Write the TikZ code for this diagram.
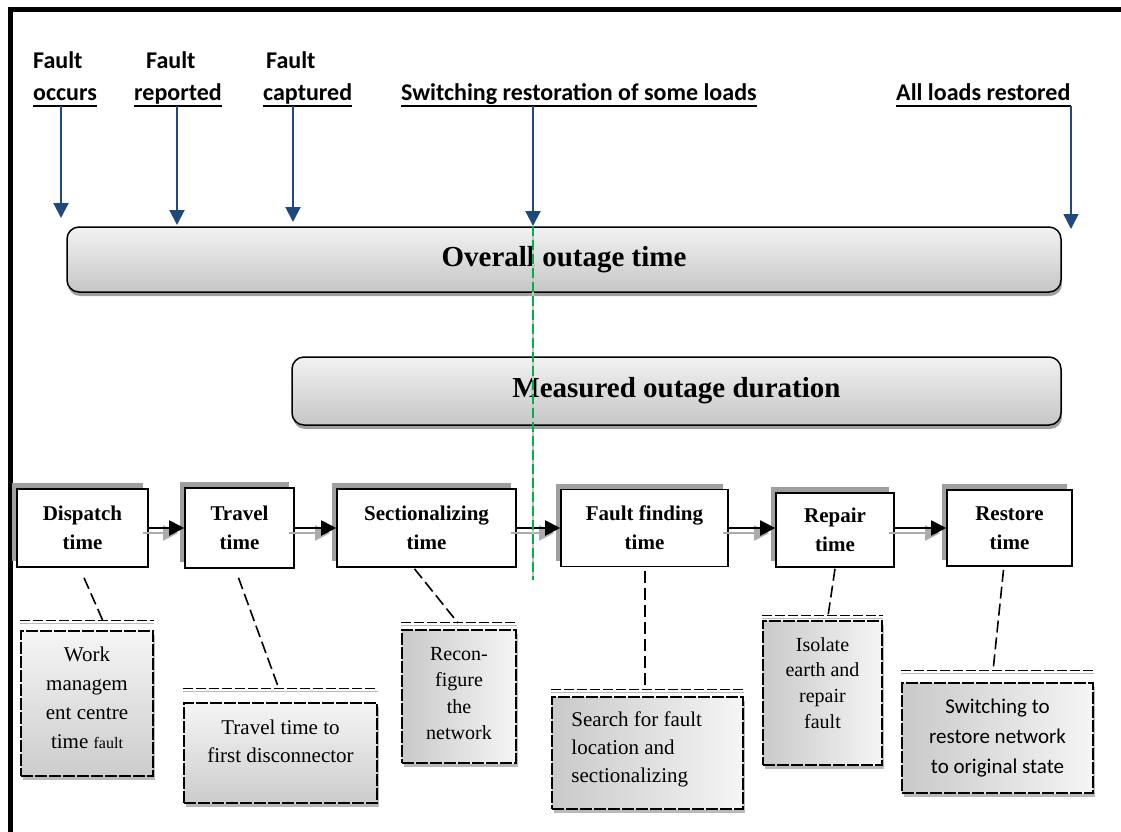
\documentclass[tikz,border=0pt]{standalone}
\usepackage{fontspec}
\setmainfont{Liberation Serif}
\newfontfamily\carl{Carlito}
\usetikzlibrary{arrows.meta,shadows}
\definecolor{arrowblue}{RGB}{31,73,125}
\definecolor{gline}{RGB}{0,176,80}
\begin{document}
\begin{tikzpicture}[x=1pt,y=-1pt,
  toplab/.style={font=\carl\bfseries\fontsize{24}{28}\selectfont, inner sep=0pt, anchor=base west},
  uline/.style={line width=2pt, black},
  barrow/.style={line width=2pt, arrowblue, -{Triangle[length=15pt,width=15pt]}},
  bigbox/.style={draw, line width=1.5pt, rounded corners=12pt, top color=gray!10, bottom color=gray!45,
    drop shadow={shadow xshift=1pt, shadow yshift=-4pt, fill=gray!75, opacity=1},
    font=\bfseries\fontsize{29}{34}\selectfont, inner sep=0pt},
  pbox/.style={draw, line width=1.6pt, fill=white, align=center, inner sep=0pt,
    font=\bfseries\fontsize{21}{29}\selectfont,
    drop shadow={shadow xshift=-5pt, shadow yshift=6pt, fill=gray!75, opacity=1}},
  parrow/.style={line width=2pt, black, -{Triangle[length=15pt,width=15pt]}},
  pashadow/.style={line width=2pt, gray!65, -{Triangle[length=15pt,width=15pt]}},
  sbox/.style={draw, line width=1.5pt, dash pattern=on 12pt off 2pt, inner sep=0pt,
    drop shadow={shadow xshift=1.5pt, shadow yshift=-4pt, fill=gray!55, opacity=1}},
  vgrad/.style={top color=gray!8, bottom color=gray!40},
  hgrad/.style={left color=gray!42, right color=gray!8},
  stext/.style={align=center, inner sep=0pt},
  dlblack/.style={line width=1.5pt, black, dash pattern=on 10pt off 3pt},
  dlgray/.style={line width=1.5pt, gray!55},
  callout/.style={line width=1.6pt, black, dash pattern=on 12pt off 5pt},
]
\useasboundingbox (0,0) rectangle (1121,832);

% frame
\draw[line width=5pt] (10,832) -- (10,10) -- (1121,10);

% top labels
\node[toplab] (f1) at (33,69) {Fault};
\node[toplab] (occ) at (33,101) {occurs};
\node[toplab] (f2) at (146,69) {Fault};
\node[toplab] (rep) at (134,101) {reported};
\node[toplab] (f3) at (266,69) {Fault};
\node[toplab] (cap) at (263,101) {captured};
\node[toplab] (sw) at (401,101) {Switching restoration of some loads};
\node[toplab] (all) at (896,101) {All loads restored};
\foreach \n in {occ,rep,cap,sw,all}{
  \draw[uline] ([yshift=-5pt]\n.base west) -- ([yshift=-5pt]\n.base east);
}

% blue arrows
\coordinate (s1) at (61,106);   \coordinate (t1) at (61,218);
\coordinate (s2) at (177,106);  \coordinate (t2) at (177,225);
\coordinate (s3) at (293,106);  \coordinate (t3) at (293,222);
\coordinate (s4) at (533,106);  \coordinate (t4) at (533,226);
\coordinate (s5) at (1071,106); \coordinate (t5) at (1071,229);
\draw[barrow] (s1) -- (t1);
\draw[barrow] (s2) -- (t2);
\draw[barrow] (s3) -- (t3);
\draw[barrow] (s4) -- (t4);
\draw[barrow, line width=1.6pt] (s5) -- (t5);

% big boxes
\node[bigbox, minimum width=994pt, minimum height=65pt] (overall) at (564,259.5) {Overall outage time};
\node[bigbox, minimum width=769pt, minimum height=68pt] (measured) at (676.5,391) {Measured outage duration};

% process boxes
\node[pbox, minimum width=131pt, minimum height=78pt] (dispatch) at (82.5,528) {Dispatch\\time};
\node[pbox, minimum width=109pt, minimum height=80pt] (travel) at (239.5,528) {Travel\\time};
\node[pbox, minimum width=179pt, minimum height=78pt] (sect) at (426.5,528) {Sectionalizing\\time};
\node[pbox, minimum width=167pt, minimum height=77pt] (ff) at (644.5,528) {Fault finding\\time};
\node[pbox, minimum width=118pt, minimum height=74pt] (repair) at (835,530) {Repair\\time};
\node[pbox, minimum width=125pt, minimum height=76pt] (restore) at (1009.5,528) {Restore\\time};

% arrows between process boxes
\draw[pashadow] ([shift={(-6,5)}]dispatch.east) -- ([shift={(-6,5)}]travel.west);
\draw[parrow] (dispatch.east) -- (travel.west);
\draw[pashadow] ([shift={(-6,5)}]travel.east) -- ([shift={(-6,5)}]sect.west);
\draw[parrow] (travel.east) -- (sect.west);
\draw[pashadow] ([shift={(-6,5)}]sect.east) -- ([shift={(-6,5)}]ff.west);
\draw[parrow] (sect.east) -- (ff.west);
\draw[pashadow] ([shift={(-6,5)}]ff.east) -- ([shift={(-6,3)}]repair.west);
\draw[parrow] (ff.east) -- ([yshift=2pt]repair.west);
\draw[pashadow] ([shift={(-6,3)}]repair.east) -- ([shift={(-6,5)}]restore.west);
\draw[parrow] ([yshift=2pt]repair.east) -- (restore.west);

% sub boxes
\node[sbox, vgrad, minimum width=132pt, minimum height=145pt] (work) at (87,703.5) {};
\node[sbox, vgrad, minimum width=193pt, minimum height=100pt] (ttbox) at (280.5,753) {};
\node[sbox, hgrad, minimum width=114pt, minimum height=133pt] (recon) at (459,696.5) {};
\node[sbox, hgrad, minimum width=191pt, minimum height=112pt] (search) at (647.5,753) {};
\node[sbox, hgrad, minimum width=119pt, minimum height=144pt] (isolate) at (822.5,693) {};
\node[sbox, hgrad, minimum width=191pt, minimum height=110pt] (switch) at (997.5,738) {};

% sub box texts
\node[stext, font=\fontsize{21}{29}\selectfont] (worktxt) at ([yshift=6pt]work.center)
  {Work\\managem\\ent centre\\time {\fontsize{16}{29}\selectfont fault}};
\node[stext, font=\fontsize{21}{28}\selectfont] (tttxt) at ([yshift=12pt]ttbox.center)
  {Travel time to\\first disconnector};
\node[stext, font=\fontsize{20}{26.5}\selectfont] (recontxt) at ([yshift=3pt]recon.center)
  {Recon-\\figure\\the\\network};
\node[stext, align=left, anchor=west, font=\fontsize{21}{28}\selectfont] (searchtxt) at ([shift={(20,-4)}]search.west)
  {Search for fault\\location and\\sectionalizing};
\node[stext, font=\fontsize{20}{25.7}\selectfont] (isotxt) at ([yshift=10pt]isolate.center)
  {Isolate\\earth and\\repair\\fault};
\node[stext, font=\carl\fontsize{21}{30}\selectfont] (swtxt) at (switch.center)
  {Switching to\\restore network\\to original state};

% double lines above sub boxes
\foreach \b/\g in {work/10,ttbox/14,recon/7,search/7,isolate/5,switch/12}{
  \draw[dlgray] ([yshift=\g pt-3pt]\b.north west) -- ([yshift=\g pt-3pt]\b.north east);
  \draw[dlblack] ([yshift=\g pt]\b.north west) -- ([yshift=\g pt]\b.north east);
}

% callout connectors
\coordinate (c1) at (103,621);
\coordinate (c2) at (279,689);
\coordinate (c3) at (458,623);
\coordinate (c4) at (645,690);
\coordinate (c5) at (828,616);
\coordinate (c6) at (993,671);
\draw[callout] ([shift={(1.5,10)}]dispatch.south) -- (c1);
\draw[callout] ([shift={(-1,9)}]travel.south) -- (c2);
\draw[callout] ([shift={(-12,1)}]sect.south) -- (c3);
\draw[callout] ([shift={(0.5,4)}]ff.south) -- (c4);
\draw[callout] ([shift={(0,1)}]repair.south) -- (c5);
\draw[callout] ([shift={(-6,3)}]restore.south) -- (c6);

% green dashed line
\coordinate (g2) at (533,580);
\draw[gray!45, line width=1.5pt] (t4) -- (g2);
\draw[gline, line width=2.5pt, dash pattern=on 10pt off 4pt] (t4) -- (g2);
\end{tikzpicture}
\end{document}
